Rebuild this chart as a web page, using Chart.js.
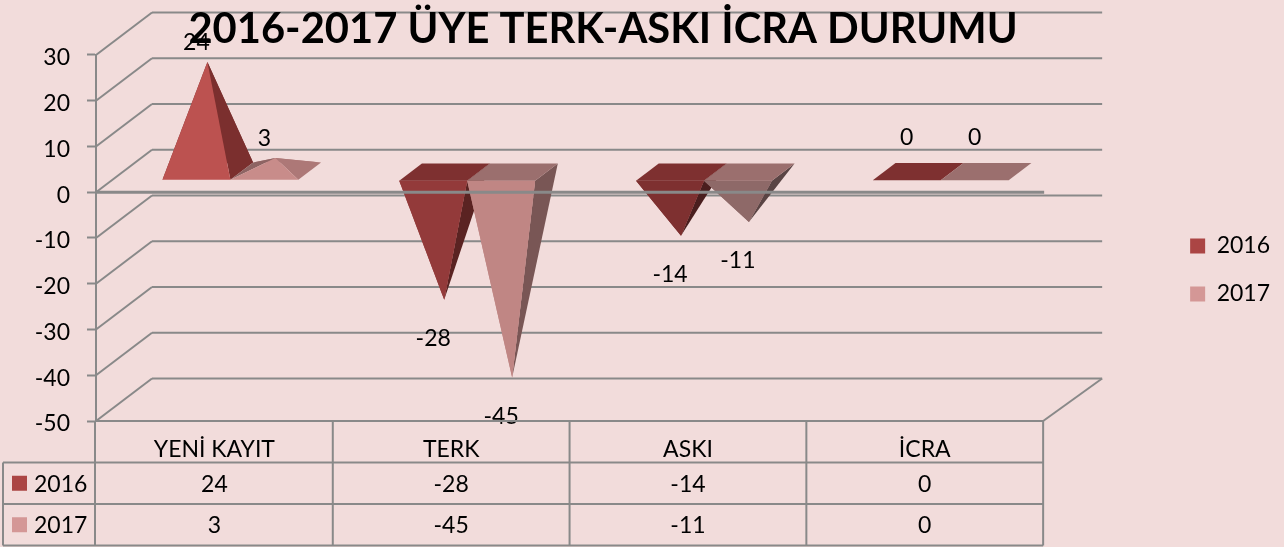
<!DOCTYPE html>
<html>
<head>
<meta charset="utf-8">
<title>2016-2017 ÜYE TERK-ASKI İCRA DURUMU</title>
<script src="https://cdn.jsdelivr.net/npm/chart.js@4/dist/chart.umd.min.js"></script>
<style>
  html, body { margin: 0; background: #F2DCDB; }
  canvas { display: block; }
</style>
</head>
<body>
<canvas id="myChart" width="1284" height="547"></canvas>
<script>
const chartTitle = "2016-2017 ÜYE TERK-ASKI İCRA DURUMU"
const categories = ["YENİ KAYIT", "TERK", "ASKI", "İCRA"]
const seriesNames = ["2016", "2017"]
const values2016 = [24, -28, -14, 0]
const values2017 = [3, -45, -11, 0]
const tickStep = 10
const tickMin = -50
const tickMax = 30

const bg = "#F2DCDB"
const gridColor = "#898989"
const legendColors = ["#AB4544", "#D49796"]
const fontName = "Lato, Carlito, sans-serif"
const textSize = 23

// face colours, the excel 3d look
const faces = [
  {
    up: { front: "#BC5250", right: "#7B2F2E", left: "#7B2F2E", back: "#7B2F2E" },
    deep: { top: "#7E3030", front: "#933A3A", right: "#5A2322" },
    shallow: { top: "#7E3030", front: "#7E3030", right: "#4A1E1E" }
  },
  {
    up: { front: "#C88C8A", right: "#AD7877", left: "#8E6463", back: "#AD7877" },
    deep: { top: "#9B6F6E", front: "#C08684", right: "#795655" },
    shallow: { top: "#9B6F6E", front: "#8E6968", right: "#5A4444" }
  }
]

function poly(ctx, color, pts) {
  ctx.fillStyle = color
  ctx.beginPath()
  ctx.moveTo(pts[0][0], pts[0][1])
  for (let i = 1; i < pts.length; i++) ctx.lineTo(pts[i][0], pts[i][1])
  ctx.closePath()
  ctx.fill()
}

function line(ctx, x1, y1, x2, y2) {
  ctx.beginPath()
  ctx.moveTo(x1, y1)
  ctx.lineTo(x2, y2)
  ctx.stroke()
}

function drawPyramid(ctx, el, v, f) {
  const fl = [el.x - el.width / 2 + 16, el.base - 12]
  const fr = [fl[0] + el.width, fl[1]]
  const bl = [fl[0] + 22.7, fl[1] - 17.3]
  const br = [fr[0] + 22.7, fr[1] - 17.3]
  const apex = [el.x + 27, el.y - 20.5]

  if (v > 0) {
    const c = f.up
    poly(ctx, c.back, [bl, br, apex])
    poly(ctx, c.left, [fl, bl, apex])
    poly(ctx, c.right, [fr, br, apex])
    poly(ctx, c.front, [fl, fr, apex])
  } else {
    const c = v <= -20 ? f.deep : f.shallow
    if (v < 0) {
      poly(ctx, c.right, [fr, br, apex])
      poly(ctx, c.front, [fl, fr, apex])
    }
    poly(ctx, c.top, [fl, fr, br, bl])
    if (v < 0) poly(ctx, c.front, [fl, fr, apex])
  }
}

const depthX = 56
const depthY = 42.5

const pyramidPlugin = {
  id: "pyramid",
  afterLayout(chart) {
    // title sits centred over the plot + table, not the whole canvas
    chart.titleBlock.right = 1206
  },
  beforeDraw(chart) {
    const ctx = chart.ctx
    const a = chart.chartArea
    const y = chart.scales.y
    ctx.save()
    ctx.fillStyle = bg
    ctx.fillRect(0, 0, chart.width, chart.height)
    ctx.strokeStyle = gridColor
    ctx.lineWidth = 2
    y.ticks.forEach(t => {
      const py = y.getPixelForValue(t.value)
      line(ctx, a.left, py, a.left + depthX, py - depthY)
      line(ctx, a.left + depthX, py - depthY, a.right + depthX + 3, py - depthY)
    })
    line(ctx, a.right, a.bottom, a.right + depthX + 3, a.bottom - depthY)
    ctx.restore()
  },
  beforeDatasetDraw() {
    return false
  },
  afterDatasetsDraw(chart) {
    const ctx = chart.ctx
    const a = chart.chartArea
    const x = chart.scales.x
    const y = chart.scales.y

    chart.data.datasets.forEach((ds, d) => {
      chart.getDatasetMeta(d).data.forEach((el, i) => {
        drawPyramid(ctx, el, ds.data[i], faces[d])
      })
    })

    ctx.save()
    ctx.strokeStyle = gridColor
    ctx.lineWidth = 3
    line(ctx, a.left, y.getPixelForValue(0), a.right + 1, y.getPixelForValue(0))

    // data labels
    ctx.fillStyle = "#000"
    ctx.font = textSize + "px " + fontName
    ctx.textAlign = "center"
    ctx.textBaseline = "middle"
    chart.data.datasets.forEach((ds, d) => {
      chart.getDatasetMeta(d).data.forEach((el, i) => {
        const v = ds.data[i]
        let off = -39.5
        if (v < 0) off = 18.5
        if (v === 0) off = -54.5
        ctx.fillText(String(v), el.x + 16, el.y + off)
      })
    })

    // data table under the plot
    const rowH = 41.5
    const top = a.bottom
    const rows = [top + rowH, top + rowH * 2, top + rowH * 3]
    ctx.lineWidth = 2
    line(ctx, a.left, top, a.right, top)
    line(ctx, 3, rows[0], a.right, rows[0])
    line(ctx, 3, rows[1], a.right, rows[1])
    line(ctx, 3, rows[2], a.right, rows[2])
    line(ctx, 3, rows[0], 3, rows[2])
    line(ctx, a.left - 1, a.bottom, a.left - 1, rows[2])
    categories.forEach((c, i) => {
      const edge = x.left + (i + 1) * x.width / categories.length
      line(ctx, edge, top, edge, rows[2])
    })
    chart.data.datasets.forEach((ds, d) => {
      const cy = rows[d] + rowH / 2 + 1
      ctx.fillStyle = legendColors[d]
      ctx.fillRect(12, cy - 8.5, 15, 15)
      ctx.fillStyle = "#000"
      ctx.textAlign = "left"
      ctx.fillText(seriesNames[d], 34, cy)
      ctx.textAlign = "center"
      ds.data.forEach((v, i) => ctx.fillText(String(v), x.getPixelForTick(i), cy))
    })
    ctx.restore()
  }
}

new Chart(document.getElementById("myChart"), {
  type: "bar",
  plugins: [pyramidPlugin],
  data: {
    labels: categories,
    datasets: [
      { label: seriesNames[0], data: values2016, backgroundColor: legendColors[0] },
      { label: seriesNames[1], data: values2017, backgroundColor: legendColors[1] }
    ]
  },
  options: {
    responsive: false,
    animation: false,
    categoryPercentage: 136 / 237,
    barPercentage: 1,
    layout: { padding: { bottom: 7, right: 4 } },
    font: { family: fontName },
    scales: {
      x: {
        grid: { display: false },
        border: { display: false },
        ticks: { color: "#000", padding: 7, autoSkip: false, maxRotation: 0, font: { family: fontName, size: textSize } },
        afterFit(s) { s.height = 119 }
      },
      y: {
        min: tickMin,
        max: tickMax,
        grid: { drawOnChartArea: false, color: gridColor, tickColor: gridColor, tickWidth: 2, tickLength: 9 },
        border: { display: true, color: gridColor, width: 2 },
        ticks: { stepSize: tickStep, color: "#000", padding: 17, labelOffset: 3, font: { family: fontName, size: textSize } },
        afterFit(s) { s.width = 96 }
      },
      // empty axis, only keeps the gap between plot and legend
      pad: {
        type: "linear",
        position: "right",
        grid: { display: false },
        border: { display: false },
        ticks: { display: false },
        afterFit(s) { s.width = 122 }
      }
    },
    plugins: {
      title: {
        display: true,
        text: chartTitle,
        color: "#000",
        padding: { top: 5, bottom: 1 },
        font: { family: fontName, size: 41.7, weight: "bold", lineHeight: 1.175 }
      },
      legend: {
        position: "right",
        maxWidth: 119,
        labels: { boxWidth: 15, boxHeight: 15, padding: 25, color: "#000", font: { family: fontName, size: textSize } }
      },
      tooltip: { enabled: false }
    }
  }
})
</script>
</body>
</html>
